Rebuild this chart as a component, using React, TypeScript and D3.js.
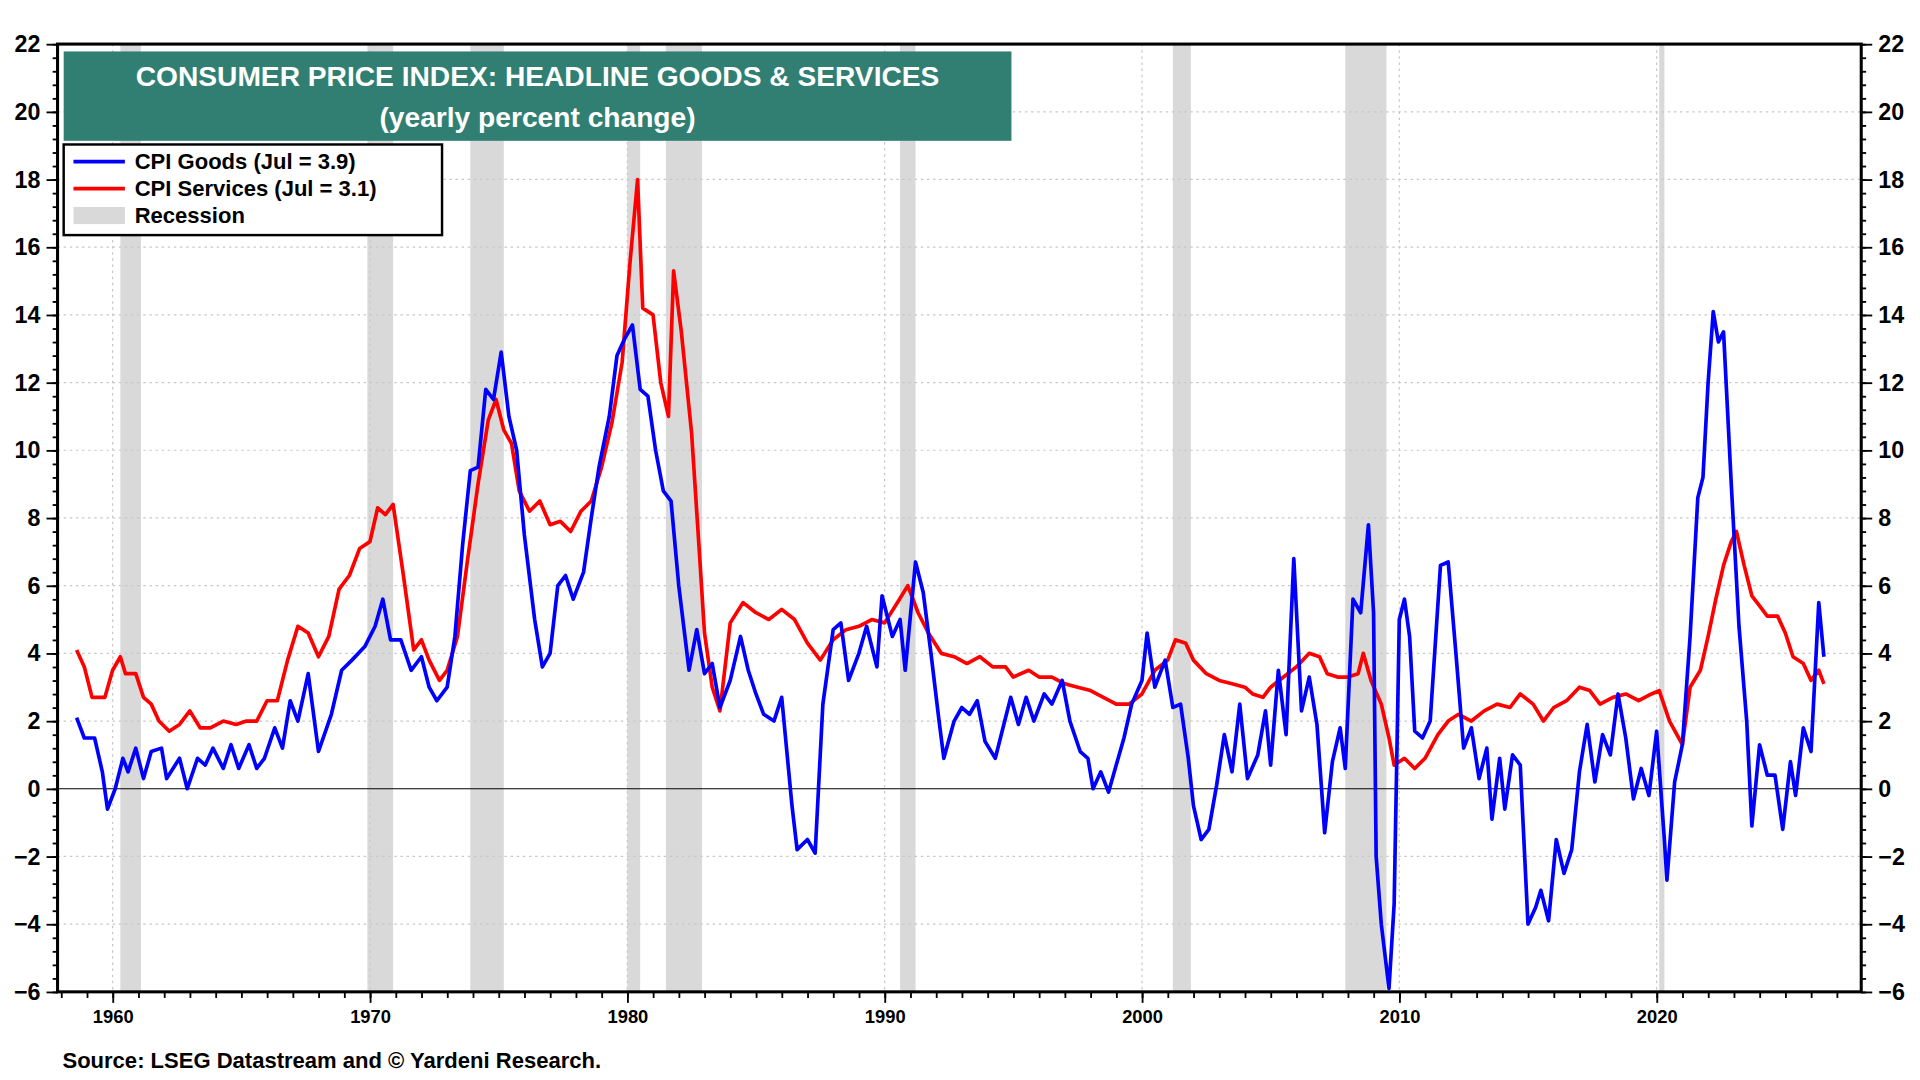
import { useEffect, useRef } from "react";
import * as d3 from "d3";

// [decimal year, yearly % change]
const goods: [number, number][] = [
  [1958.6, 2.1], [1958.9, 1.5], [1959.3, 1.5], [1959.6, 0.5], [1959.8, -0.6], [1960.1, 0], [1960.4, 0.9], [1960.6, 0.5],
  [1960.9, 1.2], [1961.2, 0.3], [1961.5, 1.1], [1961.9, 1.2], [1962.1, 0.3], [1962.6, 0.9], [1962.9, 0.0], [1963.3, 0.9],
  [1963.6, 0.7], [1963.9, 1.2], [1964.3, 0.6], [1964.6, 1.3], [1964.9, 0.6], [1965.3, 1.3], [1965.6, 0.6], [1965.9, 0.9],
  [1966.3, 1.8], [1966.6, 1.2], [1966.9, 2.6], [1967.2, 2.0], [1967.6, 3.4], [1968.0, 1.1], [1968.5, 2.2], [1968.9, 3.5],
  [1969.3, 3.8], [1969.8, 4.2], [1970.2, 4.8], [1970.5, 5.6], [1970.8, 4.4], [1971.2, 4.4], [1971.6, 3.5], [1972.0, 3.9],
  [1972.3, 3.0], [1972.6, 2.6], [1973.0, 3.0], [1973.3, 4.5], [1973.6, 7.2], [1973.9, 9.4], [1974.2, 9.5], [1974.5, 11.8],
  [1974.8, 11.5], [1975.1, 12.9], [1975.4, 11.0], [1975.7, 10.0], [1976.0, 7.5], [1976.4, 5.0], [1976.7, 3.6], [1977.0, 4.0],
  [1977.3, 6.0], [1977.6, 6.3], [1977.9, 5.6], [1978.3, 6.4], [1978.6, 8.0], [1978.9, 9.5], [1979.3, 11.0], [1979.6, 12.8],
  [1979.9, 13.3], [1980.2, 13.7], [1980.5, 11.8], [1980.8, 11.6], [1981.1, 10.0], [1981.4, 8.8], [1981.7, 8.5], [1982.0, 6.0],
  [1982.4, 3.5], [1982.7, 4.7], [1983.0, 3.4], [1983.3, 3.7], [1983.6, 2.4], [1984.0, 3.2], [1984.4, 4.5], [1984.7, 3.5],
  [1985.0, 2.8], [1985.3, 2.2], [1985.7, 2.0], [1986.0, 2.7], [1986.4, -0.5], [1986.6, -1.8], [1987.0, -1.5], [1987.3, -1.9],
  [1987.6, 2.5], [1988.0, 4.7], [1988.3, 4.9], [1988.6, 3.2], [1989.0, 4.0], [1989.3, 4.8], [1989.7, 3.6], [1989.9, 5.7],
  [1990.3, 4.5], [1990.6, 5.0], [1990.8, 3.5], [1991.2, 6.7], [1991.5, 5.8], [1991.8, 4.0], [1992.1, 2.1], [1992.3, 0.9],
  [1992.7, 2.0], [1993.0, 2.4], [1993.3, 2.2], [1993.6, 2.6], [1993.9, 1.4], [1994.3, 0.9], [1994.6, 1.8], [1994.9, 2.7],
  [1995.2, 1.9], [1995.5, 2.7], [1995.8, 2.0], [1996.2, 2.8], [1996.5, 2.5], [1996.9, 3.2], [1997.2, 2.0], [1997.6, 1.1],
  [1997.9, 0.9], [1998.1, 0.0], [1998.4, 0.5], [1998.7, -0.1], [1999.0, 0.7], [1999.3, 1.5], [1999.6, 2.5], [2000.0, 3.2],
  [2000.2, 4.6], [2000.5, 3.0], [2000.9, 3.8], [2001.2, 2.4], [2001.5, 2.5], [2001.8, 0.9], [2002.0, -0.5], [2002.3, -1.5],
  [2002.6, -1.2], [2002.9, 0.1], [2003.2, 1.6], [2003.5, 0.5], [2003.8, 2.5], [2004.1, 0.3], [2004.5, 1.0], [2004.8, 2.3],
  [2005.0, 0.7], [2005.3, 3.5], [2005.6, 1.6], [2005.9, 6.8], [2006.2, 2.3], [2006.5, 3.3], [2006.8, 1.9], [2007.1, -1.3],
  [2007.4, 0.8], [2007.7, 1.8], [2007.9, 0.6], [2008.2, 5.6], [2008.5, 5.2], [2008.8, 7.8], [2009.0, 5.2], [2009.1, -2.0],
  [2009.3, -4.0], [2009.6, -5.9], [2009.8, -3.4], [2010.0, 5.0], [2010.2, 5.6], [2010.4, 4.5], [2010.6, 1.7], [2010.9, 1.5],
  [2011.2, 2.0], [2011.6, 6.6], [2011.9, 6.7], [2012.2, 4.0], [2012.5, 1.2], [2012.8, 1.8], [2013.1, 0.3], [2013.4, 1.2],
  [2013.6, -0.9], [2013.9, 0.9], [2014.1, -0.6], [2014.4, 1.0], [2014.7, 0.7], [2015.0, -4.0], [2015.3, -3.5], [2015.5, -3.0],
  [2015.8, -3.9], [2016.1, -1.5], [2016.4, -2.5], [2016.7, -1.8], [2017.0, 0.5], [2017.3, 1.9], [2017.6, 0.2], [2017.9, 1.6],
  [2018.2, 1.0], [2018.5, 2.8], [2018.8, 1.5], [2019.1, -0.3], [2019.4, 0.6], [2019.7, -0.2], [2020.0, 1.7], [2020.3, -1.5],
  [2020.4, -2.7], [2020.7, 0.2], [2021.0, 1.3], [2021.3, 4.5], [2021.6, 8.6], [2021.8, 9.2], [2022.0, 12.0], [2022.2, 14.1],
  [2022.4, 13.2], [2022.6, 13.5], [2022.9, 9.0], [2023.2, 4.8], [2023.5, 2.0], [2023.7, -1.1], [2024.0, 1.3], [2024.3, 0.4],
  [2024.6, 0.4], [2024.9, -1.2], [2025.2, 0.8], [2025.4, -0.2], [2025.7, 1.8], [2026.0, 1.1], [2026.3, 5.5], [2026.5, 3.9],
];

const services: [number, number][] = [
  [1958.6, 4.1], [1958.9, 3.6], [1959.2, 2.7], [1959.7, 2.7], [1960.0, 3.5], [1960.3, 3.9], [1960.5, 3.4], [1960.9, 3.4],
  [1961.2, 2.7], [1961.5, 2.5], [1961.8, 2.0], [1962.2, 1.7], [1962.6, 1.9], [1963.0, 2.3], [1963.4, 1.8], [1963.8, 1.8],
  [1964.3, 2.0], [1964.8, 1.9], [1965.2, 2.0], [1965.6, 2.0], [1966.0, 2.6], [1966.4, 2.6], [1966.8, 3.8], [1967.2, 4.8],
  [1967.6, 4.6], [1968.0, 3.9], [1968.4, 4.5], [1968.8, 5.9], [1969.2, 6.3], [1969.6, 7.1], [1970.0, 7.3], [1970.3, 8.3],
  [1970.6, 8.1], [1970.9, 8.4], [1971.3, 6.3], [1971.7, 4.1], [1972.0, 4.4], [1972.3, 3.8], [1972.7, 3.2], [1973.0, 3.5],
  [1973.4, 4.5], [1973.8, 6.8], [1974.2, 9.0], [1974.6, 10.9], [1974.9, 11.5], [1975.2, 10.6], [1975.5, 10.2], [1975.8, 8.8],
  [1976.2, 8.2], [1976.6, 8.5], [1977.0, 7.8], [1977.4, 7.9], [1977.8, 7.6], [1978.2, 8.2], [1978.6, 8.5], [1979.0, 9.5],
  [1979.4, 10.8], [1979.8, 12.6], [1980.1, 15.5], [1980.4, 18.0], [1980.6, 14.2], [1981.0, 14.0], [1981.3, 12.0], [1981.6, 11.0],
  [1981.8, 15.3], [1982.1, 13.5], [1982.5, 10.5], [1982.8, 7.0], [1983.0, 4.6], [1983.3, 3.0], [1983.6, 2.3], [1984.0, 4.9],
  [1984.5, 5.5], [1985.0, 5.2], [1985.5, 5.0], [1986.0, 5.3], [1986.5, 5.0], [1987.0, 4.3], [1987.5, 3.8], [1988.0, 4.4],
  [1988.5, 4.7], [1989.0, 4.8], [1989.5, 5.0], [1990.0, 4.9], [1990.5, 5.5], [1990.9, 6.0], [1991.3, 5.2], [1991.7, 4.6],
  [1992.2, 4.0], [1992.7, 3.9], [1993.2, 3.7], [1993.7, 3.9], [1994.2, 3.6], [1994.7, 3.6], [1995.0, 3.3], [1995.6, 3.5],
  [1996.0, 3.3], [1996.5, 3.3], [1997.0, 3.1], [1997.5, 3.0], [1998.0, 2.9], [1998.5, 2.7], [1999.0, 2.5], [1999.5, 2.5],
  [2000.0, 2.8], [2000.5, 3.5], [2001.0, 3.8], [2001.3, 4.4], [2001.7, 4.3], [2002.0, 3.8], [2002.5, 3.4], [2003.0, 3.2],
  [2003.5, 3.1], [2004.0, 3.0], [2004.3, 2.8], [2004.7, 2.7], [2005.0, 3.0], [2005.5, 3.3], [2006.0, 3.6], [2006.5, 4.0],
  [2006.9, 3.9], [2007.2, 3.4], [2007.6, 3.3], [2008.0, 3.3], [2008.4, 3.4], [2008.6, 4.0], [2008.9, 3.2], [2009.3, 2.5],
  [2009.6, 1.5], [2009.8, 0.7], [2010.2, 0.9], [2010.6, 0.6], [2011.0, 0.9], [2011.5, 1.6], [2011.9, 2.0], [2012.3, 2.2],
  [2012.8, 2.0], [2013.3, 2.3], [2013.8, 2.5], [2014.3, 2.4], [2014.7, 2.8], [2015.2, 2.5], [2015.6, 2.0], [2016.0, 2.4],
  [2016.5, 2.6], [2017.0, 3.0], [2017.4, 2.9], [2017.8, 2.5], [2018.3, 2.7], [2018.8, 2.8], [2019.3, 2.6], [2019.8, 2.8],
  [2020.1, 2.9], [2020.5, 2.0], [2021.0, 1.3], [2021.3, 3.0], [2021.7, 3.5], [2022.0, 4.5], [2022.3, 5.6], [2022.6, 6.6],
  [2022.9, 7.3], [2023.1, 7.6], [2023.4, 6.6], [2023.7, 5.7], [2024.0, 5.4], [2024.3, 5.1], [2024.7, 5.1], [2025.0, 4.6],
  [2025.3, 3.9], [2025.7, 3.7], [2026.0, 3.2], [2026.3, 3.5], [2026.5, 3.1],
];

const recessions: [number, number][] = [
  [1960.3, 1961.1], [1969.9, 1970.9], [1973.9, 1975.2], [1980.0, 1980.5], [1981.5, 1982.9],
  [1990.6, 1991.2], [2001.2, 2001.9], [2007.9, 2009.5], [2020.1, 2020.3],
];

const yTicks = d3.range(-6, 23, 2);
const decadeTicks = [1960, 1970, 1980, 1990, 2000, 2010, 2020];
const legendItems = [
  { label: "CPI Goods (Jul = 3.9)", color: "#0000ff", kind: "line" },
  { label: "CPI Services (Jul = 3.1)", color: "#ff0000", kind: "line" },
  { label: "Recession", color: "#d9d9d9", kind: "box" },
];

export default function App() {
  const ref = useRef<SVGSVGElement | null>(null);

  useEffect(() => {
    const W = 1568, H = 882;
    const m = { left: 47, right: 1520, top: 36, bottom: 810 };
    const svg = d3.select(ref.current).attr("viewBox", `0 0 ${W} ${H}`);
    svg.selectAll("*").remove();
    const font = "Arial, 'Liberation Sans', sans-serif";

    const x = d3.scaleLinear().domain([1957.86, 2027.95]).range([m.left, m.right]);
    const y = d3.scaleLinear().domain([-6, 22]).range([m.bottom, m.top]);

    svg.append("rect").attr("width", W).attr("height", H).attr("fill", "#fff");

    // recession bands
    svg.append("g").selectAll("rect").data(recessions).enter().append("rect")
      .attr("x", (d) => x(d[0])).attr("width", (d) => x(d[1]) - x(d[0]))
      .attr("y", m.top).attr("height", m.bottom - m.top).attr("fill", "#d9d9d9");

    // grid
    const grid = svg.append("g").attr("stroke", "#c8c8c8").attr("stroke-dasharray", "2,3").attr("stroke-width", 1);
    yTicks.filter((t) => t !== 0 && t !== -6 && t !== 22).forEach((t) =>
      grid.append("line").attr("x1", m.left).attr("x2", m.right).attr("y1", y(t)).attr("y2", y(t)));
    decadeTicks.forEach((t) =>
      grid.append("line").attr("x1", x(t)).attr("x2", x(t)).attr("y1", m.top).attr("y2", m.bottom));

    svg.append("line").attr("x1", m.left).attr("x2", m.right).attr("y1", y(0)).attr("y2", y(0))
      .attr("stroke", "#000").attr("stroke-width", 1);

    const line = d3.line<[number, number]>().x((d) => x(d[0])).y((d) => y(d[1]));
    svg.append("path").datum(services).attr("d", line).attr("fill", "none")
      .attr("stroke", "#ff0000").attr("stroke-width", 3).attr("stroke-linejoin", "round");
    svg.append("path").datum(goods).attr("d", line).attr("fill", "none")
      .attr("stroke", "#0000ff").attr("stroke-width", 3).attr("stroke-linejoin", "round");

    // frame
    svg.append("rect").attr("x", m.left).attr("y", m.top).attr("width", m.right - m.left)
      .attr("height", m.bottom - m.top).attr("fill", "none").attr("stroke", "#000").attr("stroke-width", 2.5);

    // axes
    const minorY = d3.range(-6, 22.01, 0.4);
    const axL = svg.append("g").attr("transform", `translate(${m.left},0)`)
      .call(d3.axisLeft(y).tickValues(minorY).tickSize(4).tickFormat(() => ""));
    axL.append("g").call(d3.axisLeft(y).tickValues(yTicks).tickSize(9).tickPadding(5).tickFormat(d3.format("d")));
    const axR = svg.append("g").attr("transform", `translate(${m.right},0)`)
      .call(d3.axisRight(y).tickValues(minorY).tickSize(4).tickFormat(() => ""));
    axR.append("g").call(d3.axisRight(y).tickValues(yTicks).tickSize(9).tickPadding(5).tickFormat(d3.format("d")));
    const axB = svg.append("g").attr("transform", `translate(0,${m.bottom})`)
      .call(d3.axisBottom(x).tickValues(d3.range(1958, 2028)).tickSize(5).tickFormat(() => ""));
    axB.append("g").call(d3.axisBottom(x).tickValues(decadeTicks).tickSize(9).tickPadding(6).tickFormat(d3.format("d")));
    [axL, axR, axB].forEach((a) => {
      a.selectAll(".domain").remove();
      a.selectAll("line").attr("stroke", "#000").attr("stroke-width", 1.5);
      a.selectAll("text").attr("font-family", font).attr("font-weight", "bold").attr("fill", "#000");
    });
    axL.selectAll("text").attr("font-size", 19);
    axR.selectAll("text").attr("font-size", 19);
    axB.selectAll("text").attr("font-size", 15);

    // title box
    svg.append("rect").attr("x", 52).attr("y", 42).attr("width", 774).attr("height", 73).attr("fill", "#317f72");
    svg.append("text").attr("x", 439).attr("y", 70).attr("text-anchor", "middle").attr("fill", "#fff")
      .attr("font-family", font).attr("font-weight", "bold").attr("font-size", 23)
      .text("CONSUMER PRICE INDEX: HEADLINE GOODS & SERVICES");
    svg.append("text").attr("x", 439).attr("y", 104).attr("text-anchor", "middle").attr("fill", "#fff")
      .attr("font-family", font).attr("font-weight", "bold").attr("font-size", 23)
      .text("(yearly percent change)");

    // legend
    svg.append("rect").attr("x", 52).attr("y", 118).attr("width", 309).attr("height", 74)
      .attr("fill", "#fff").attr("stroke", "#000").attr("stroke-width", 2);
    legendItems.forEach((it, i) => {
      const cy = 132 + i * 22;
      if (it.kind === "line")
        svg.append("line").attr("x1", 60).attr("x2", 102).attr("y1", cy).attr("y2", cy)
          .attr("stroke", it.color).attr("stroke-width", 3);
      else svg.append("rect").attr("x", 60).attr("y", cy - 7).attr("width", 42).attr("height", 14).attr("fill", it.color);
      svg.append("text").attr("x", 110).attr("y", cy + 6).attr("font-family", font).attr("font-weight", "bold")
        .attr("font-size", 18).text(it.label);
    });

    svg.append("text").attr("x", 51).attr("y", 872).attr("font-family", font).attr("font-weight", "bold")
      .attr("font-size", 18).text("Source: LSEG Datastream and © Yardeni Research.");
  }, []);

  return <svg ref={ref} width={1920} height={1080} style={{ display: "block", margin: -8 }} />;
}
